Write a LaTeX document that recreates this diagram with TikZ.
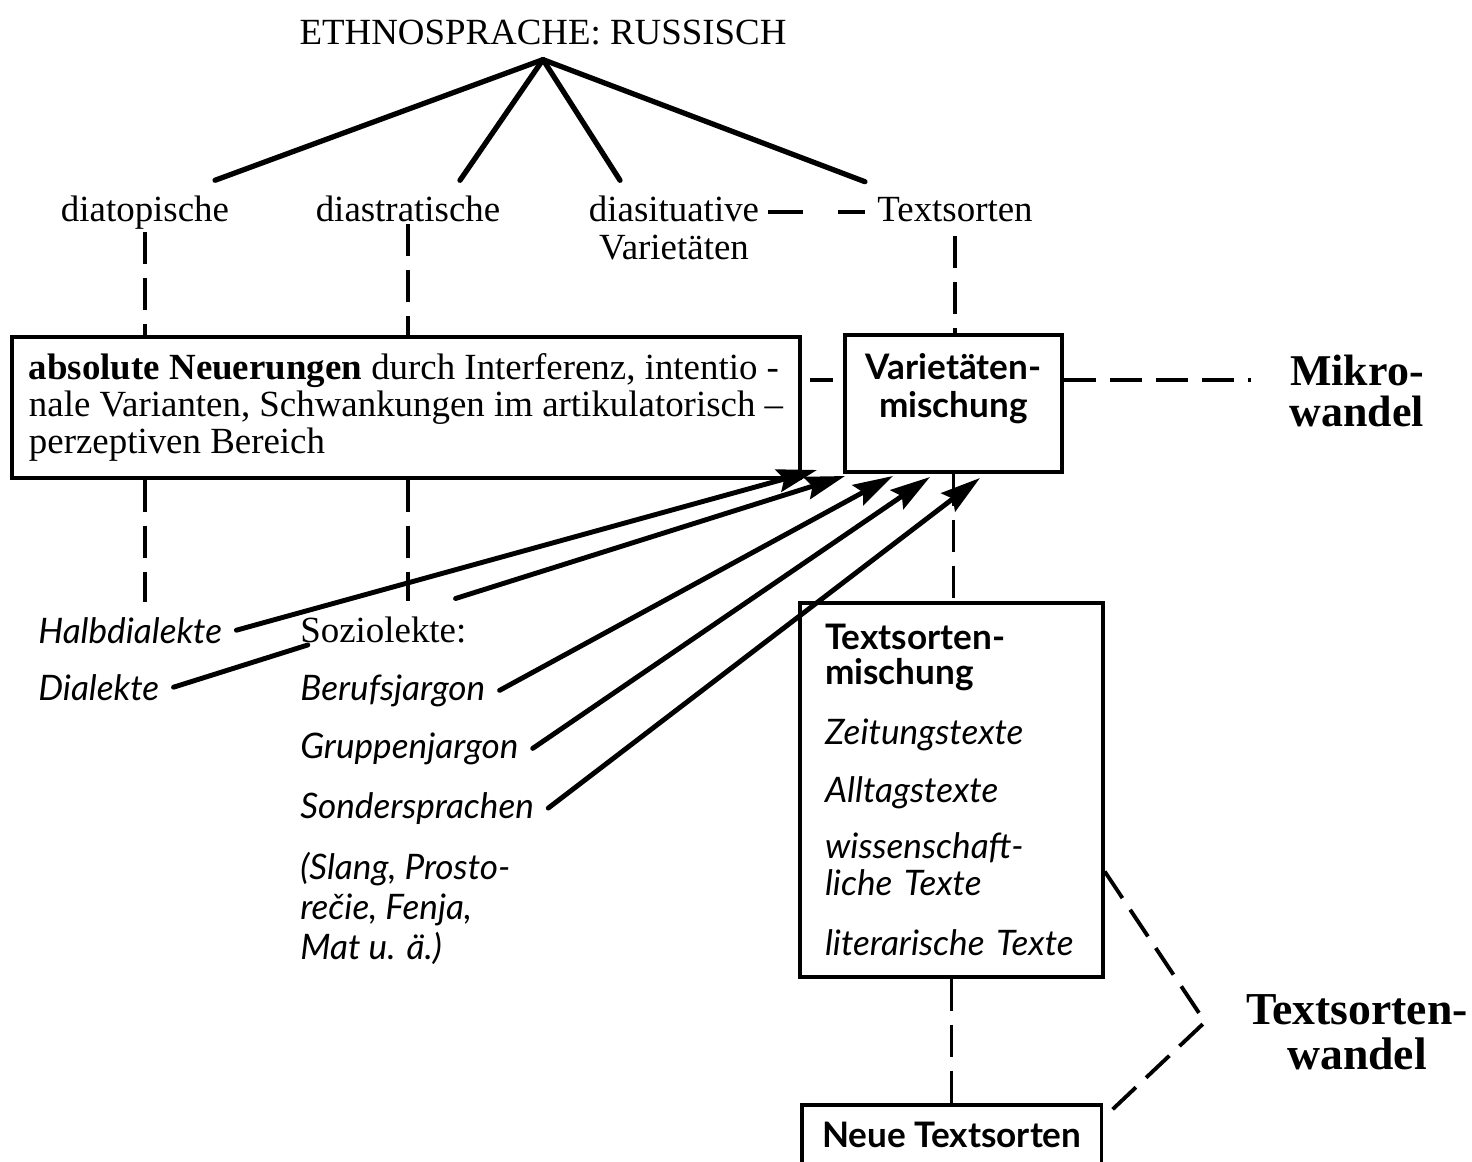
\documentclass[tikz,border=0pt]{standalone}
\usepackage{fontspec}
\setmainfont{Liberation Serif}
\newfontfamily\listfont{Lato}
\usetikzlibrary{arrows.meta,calc}

\begin{document}
\begin{tikzpicture}[x=0.02cm,y=-0.02cm,
  font=\fontsize{21}{24}\selectfont,
  lab/.style={anchor=base,inner sep=1pt},
  item/.style={anchor=base west,inner xsep=0.28cm,inner ysep=0pt,font=\listfont\itshape\fontsize{20}{23}\selectfont},
  box/.style={draw,line width=2pt,inner sep=0pt},
  tree/.style={line width=3pt,line cap=round},
  dashline/.style={line width=2.2pt,dash pattern=on 0.64cm off 0.28cm},
  arr/.style={line width=2.8pt,line cap=round,-{Stealth[length=0.8cm,width=0.46cm,inset=0.12cm]}}]
\useasboundingbox (0,0) rectangle (1472,1162);

\node[lab] (title) at (543,45) {ETHNOSPRACHE: RUSSISCH};
\coordinate (apex) at ([shift={(0,12)}]title.south);

\node[lab] (topo)  at (145,222) {diatopische};
\node[lab] (strat) at (408,222) {diastratische};
\node[lab] (sit)   at (674,222) {diasituative};
\node[lab] (var)   at (674,260) {Varietäten};
\node[lab] (texts) at (955,222) {Textsorten};

\draw[tree] (apex) -- ([shift={(70,-14)}]topo.north);
\draw[tree] (apex) -- ([shift={(52,-14)}]strat.north);
\draw[tree] (apex) -- ([shift={(-54,-14)}]sit.north);
\draw[tree] (apex) -- ([shift={(-90,-14)}]texts.north);
\draw[dashline,dash pattern=on 0.7cm off 0.7cm] ([shift={(7,-10)}]sit.base east) -- ([shift={(-10,-10)}]texts.base west);

\node[box,minimum width=15.76cm,minimum height=2.82cm,align=left,font=\fontsize{21}{21}\selectfont] (abs) at (406,407.5)
  {\textbf{absolute Neuerungen} durch Interferenz, intentio -\\
   nale Varianten, Schwankungen im artikulatorisch –\\
   perzeptiven Bereich};
\node[box,minimum width=4.34cm,minimum height=2.74cm,
  label={[align=center,yshift=0.3cm,font=\listfont\bfseries\fontsize{20}{21.5}\selectfont]center:Varietäten-\\mischung}] (vmix) at (953.5,403.5) {};
\node[align=center,font=\bfseries\fontsize{25}{23}\selectfont] (mikro) at (1357,391) {Mikro-\\wandel};

\draw[dashline] (topo.south) -- (topo.south |- abs.north);
\draw[dashline] (strat.south) -- (strat.south |- abs.north);
\draw[dashline,shorten <=0.24cm] (texts.south) -- (texts.south |- vmix.north);
\draw[dashline,shorten <=0.16cm,shorten >=0.2cm] (abs.east |- vmix.168) -- (vmix.168);
\draw[dashline,shorten >=0.65cm] (vmix.12) -- (mikro.west |- vmix.12);

\node[item] (halb) at (24,643) {Halbdialekte};
\node[item] (dial) at (24,700) {Dialekte};
\node[anchor=base west,inner sep=0pt] (sozio) at (300,642) {Soziolekte:};
\node[item] (beruf) at (286,700) {Berufsjargon};
\node[item] (grup) at (286,758) {Gruppenjargon};
\node[item] (sond) at (286,818) {Sondersprachen};
\node[item,anchor=north west,align=left,font=\listfont\itshape\fontsize{20}{22.7}\selectfont] (slang) at (286,852)
  {(Slang, Prosto-\\rečie, Fenja,\\Mat u. ä.)};

\draw[dashline,shorten >=0.3cm] (topo.south |- abs.south) -- (topo.south |- halb.north);
\draw[dashline,shorten >=0.3cm] (strat.south |- abs.south) -- (strat.south |- sozio.north);

\node[box,minimum width=6.06cm,minimum height=7.48cm,text width=5.06cm,align=left,font=\listfont\fontsize{20}{20}\selectfont] (tmix) at (951.5,790)
  {\textbf{Textsorten-}\\\textbf{mischung}\\[14pt]
   \textit{Zeitungstexte}\\[13pt]
   \textit{Alltagstexte}\\[12pt]
   \textit{wissenschaft-}\\[1pt]
   \textit{liche Texte}\\[14pt]
   \textit{literarische Texte}};
\node[box,anchor=north west,minimum width=6cm,inner ysep=0.34cm,text depth=0.8cm,font=\listfont\bfseries\fontsize{20}{20}\selectfont] (neu) at (800,1103) {Neue Textsorten};
\node[align=center,font=\bfseries\fontsize{26}{25.5}\selectfont] (tsw) at (1357,1032) {Textsorten-\\wandel};

\draw[dashline] (vmix.south) -- (vmix.south |- tmix.north);
\draw[dashline] (tmix.south) -- (tmix.south |- neu.north);
\coordinate (knick) at (1205,1022);
\draw[dashline] (tmix.-28) -- (knick) -- ([shift={(0,15)}]neu.north east);

\coordinate (e1) at (817,470);
\coordinate (e2) at (845,476);
\coordinate (e3) at (893,476);
\coordinate (e4) at (930,477);
\coordinate (e5) at (980,478);
\draw[arr] (halb.east) -- (e1);
\draw[arr] (dial.east) -- ($(dial.east)!.2!(e2)$) ($(dial.east)!.42!(e2)$) -- (e2);
\draw[arr] (beruf.east) -- (e3);
\draw[arr] (grup.east) -- (e4);
\draw[arr] (sond.east) -- (e5);

\end{tikzpicture}
\end{document}
